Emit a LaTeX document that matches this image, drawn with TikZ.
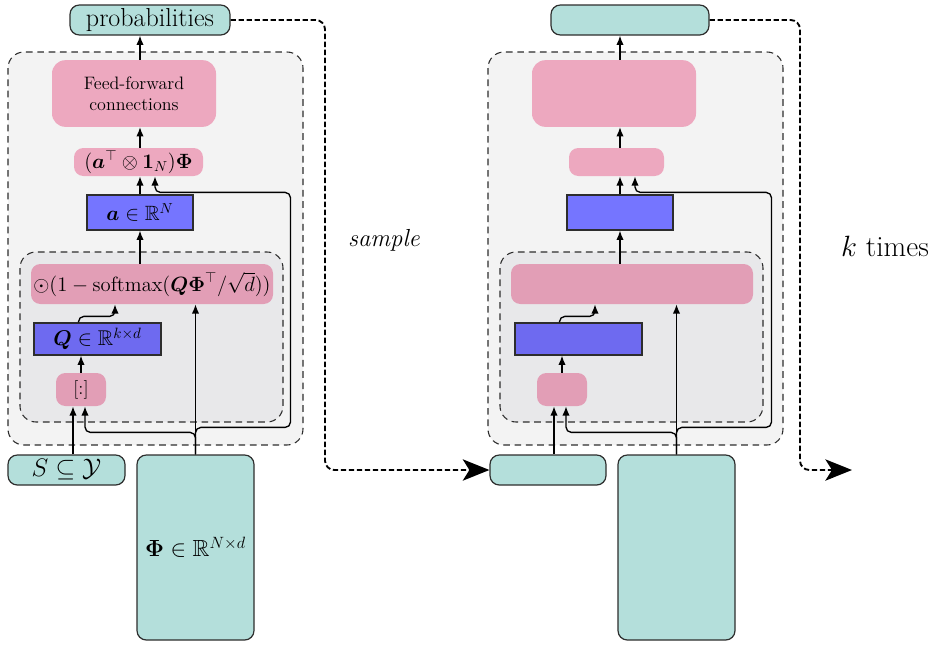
\RequirePackage{fix-cm}
\documentclass[tikz,border=0pt]{standalone}
\usepackage{amsmath}
\usepackage{amssymb}
\usepackage{xcolor}
\usetikzlibrary{arrows.meta,calc}

\definecolor{ioteal}{RGB}{180,223,219}
\definecolor{ffpink}{RGB}{237,168,191}
\definecolor{attpink}{RGB}{226,158,182}
\definecolor{vecblue}{RGB}{117,117,255}
\definecolor{qblue}{RGB}{110,106,240}
\definecolor{outergray}{RGB}{243,243,243}
\definecolor{innergray}{RGB}{232,232,234}
\definecolor{edgegray}{RGB}{45,45,45}

\begin{document}
\begin{tikzpicture}[x=0.75pt,y=0.75pt,yscale=-1,xscale=1,
  iobox/.style={draw=edgegray,line width=0.9pt,fill=ioteal,rounded corners=7pt,inner sep=0pt},
  ffbox/.style={fill=ffpink,rounded corners=10pt,inner sep=0pt,align=center},
  attbox/.style={fill=attpink,rounded corners=7pt,inner sep=0pt},
  vecbox/.style={draw=edgegray,line width=0.9pt,fill=vecblue,inner sep=0pt},
  outerbox/.style={draw=edgegray,dash pattern=on 5pt off 3.5pt,line width=0.8pt,fill=outergray,rounded corners=12pt},
  innerbox/.style={draw=edgegray,dash pattern=on 5pt off 3.5pt,line width=0.8pt,fill=innergray,rounded corners=12pt},
  arr/.style={-{Latex[length=7pt,width=5.5pt]},line width=1pt,rounded corners=4pt},
  loopline/.style={dash pattern=on 4pt off 2pt,line width=1.4pt,rounded corners=7pt,-{Stealth[length=20pt,width=16pt,inset=5pt]}}]
\useasboundingbox (0,0) rectangle (936,644);

% containers
\draw[outerbox] (8,52) rectangle (303,445);
\draw[innerbox] (20,252) rectangle (283,422);
\draw[outerbox] (488,52) rectangle (783,445);
\draw[innerbox] (500,252) rectangle (763,422);

% first pass
\node[iobox,minimum width=120pt,minimum height=22.5pt,font=\fontsize{19.5}{23}\selectfont] (probL) at (150,20) {probabilities};
\node[ffbox,minimum width=123pt,minimum height=50pt,font=\fontsize{13.5}{16}\selectfont] (ffL) at (134,93.5) {Feed-forward\\connections};
\node[ffbox,rounded corners=7pt,minimum width=96.75pt,minimum height=21pt,font=\fontsize{15.5}{18}\selectfont] (aggL) at (138.5,162) {$(\boldsymbol{a}^{\top}\otimes\mathbf{1}_N)\boldsymbol{\Phi}$};
\node[vecbox,minimum width=79.5pt,minimum height=26.25pt,font=\fontsize{15.5}{18}\selectfont] (attL) at (140,212.5) {$\boldsymbol{a}\in\mathbb{R}^N$};
\node[attbox,minimum width=181.5pt,minimum height=30pt,font=\fontsize{15.5}{18}\selectfont] (smL) at (152,284) {$\odot(1-\mathrm{softmax}(\boldsymbol{Q}\boldsymbol{\Phi}^{\top}/\sqrt{d}))$};
\node[vecbox,fill=qblue,minimum width=95.25pt,minimum height=24pt,font=\fontsize{16}{19}\selectfont] (queryL) at (97.5,339) {$\boldsymbol{Q}\in\mathbb{R}^{k\times d}$};
\node[attbox,minimum width=37.5pt,minimum height=24.75pt,font=\fontsize{14}{17}\selectfont] (sliceL) at (81,389.5) {$[:]$};
\node[iobox,minimum width=87.75pt,minimum height=22.5pt,font=\fontsize{19}{23}\selectfont] (subsetL) at (66.5,470) {$S\subseteq\mathcal{Y}$};
\node[iobox,minimum width=87.75pt,minimum height=138.75pt,font=\fontsize{17.5}{21}\selectfont] (embL) at (195.5,547.5) {$\boldsymbol{\Phi}\in\mathbb{R}^{N\times d}$};

% later passes
\node[iobox,minimum width=118.5pt,minimum height=22.5pt] (probR) at (630,20) {};
\node[ffbox,minimum width=123pt,minimum height=50pt] (ffR) at (614,93.5) {};
\node[ffbox,rounded corners=7pt,minimum width=71.25pt,minimum height=21pt] (aggR) at (616.5,162) {};
\node[vecbox,minimum width=79.5pt,minimum height=26.25pt] (attR) at (620,212.5) {};
\node[attbox,minimum width=181.5pt,minimum height=30pt] (smR) at (632,284) {};
\node[vecbox,fill=qblue,minimum width=95.25pt,minimum height=24pt] (queryR) at (578.5,339) {};
\node[attbox,minimum width=37.5pt,minimum height=24.75pt] (sliceR) at (562,389.5) {};
\node[iobox,minimum width=87pt,minimum height=22.5pt] (subsetR) at (548,470) {};
\node[iobox,minimum width=87.75pt,minimum height=138.75pt] (embR) at (676.5,547.5) {};

% connectors
\foreach \c in {L,R} {
  \draw[arr] ($(slice\c.south |- subset\c.north)+(-8,0)$) -- ($(slice\c.south)+(-8,0)$);
  \draw[arr] (emb\c.north) -- ++(0,-22) -| ($(slice\c.south)+(4,0)$);
  \draw[arr] (emb\c.north) -- ++(0,-27) -| ++(95,-235) -| ($(att\c.north |- agg\c.south)+(15,0)$);
  \draw[arr] (emb\c.north) -- (emb\c.north |- sm\c.south);
  \draw[arr] (slice\c.north) -- (slice\c.north |- query\c.south);
  \draw[arr] ($(query\c.north)+(-19,0)$) -- ++(0,-6) -| ($(sm\c.south)+(-37,0)$);
  \draw[arr] (att\c.south |- sm\c.north) -- (att\c.south);
  \draw[arr] (att\c.north) -- (att\c.north |- agg\c.south);
  \draw[arr] (att\c.north |- agg\c.north) -- (att\c.north |- ff\c.south);
  \draw[arr] (att\c.north |- ff\c.north) -- (att\c.north |- prob\c.south);
}

% sampling loop
\coordinate (bendL) at (325,250);
\coordinate (bendR) at (800,250);
\coordinate (endK) at (852,470);
\draw[loopline] (probL.east) -| (bendL) |- (subsetR.west);
\draw[loopline] (probR.east) -| (bendR) |- (endK);

\node[font=\itshape\fontsize{18.5}{22}\selectfont] (samplelbl) at (384,240) {sample};
\node[font=\fontsize{22}{26}\selectfont] (timeslbl) at (885,246) {$k$ times};

\end{tikzpicture}
\end{document}
